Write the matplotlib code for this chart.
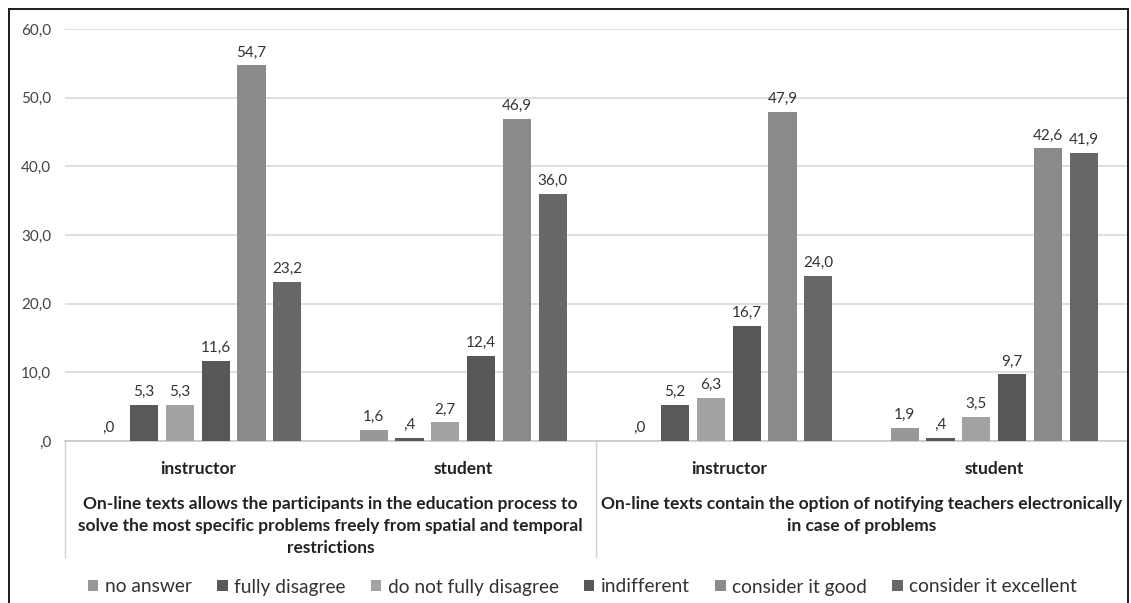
import numpy as np
import matplotlib.pyplot as plt
from matplotlib.lines import Line2D

plt.rcParams['font.family'] = ['Lato', 'DejaVu Sans']

# -- Data
groups = ['instructor', 'student', 'instructor', 'student']
statements = [
    'On-line texts allows the participants in the education process to\n'
    'solve the most specific problems freely from spatial and temporal\n'
    'restrictions',
    'On-line texts contain the option of notifying teachers electronically\n'
    'in case of problems',
]
series = ['no answer', 'fully disagree', 'do not fully disagree',
          'indifferent', 'consider it good', 'consider it excellent']
no_answer = [0.0, 1.6, 0.0, 1.9]
fully_disagree = [5.3, 0.4, 5.2, 0.4]
not_fully_disagree = [5.3, 2.7, 6.3, 3.5]
indifferent = [11.6, 12.4, 16.7, 9.7]
good = [54.7, 46.9, 47.9, 42.6]
excellent = [23.2, 36.0, 24.0, 41.9]

values = [no_answer, fully_disagree, not_fully_disagree, indifferent, good, excellent]
colors = ['#989898', '#595959', '#a3a3a3', '#575757', '#8a8a8a', '#676767']


def fmt(v):
    s = f'{v:.1f}'.replace('.', ',')
    if s.startswith('0,'):
        s = s[1:]
    return s


fig = plt.figure(figsize=(11.31, 6.03), dpi=100)
ax = fig.add_axes([65 / 1131, 1 - 441 / 603, 1062 / 1131, 412 / 603])

x = np.arange(len(groups))
step = 0.135
width = 0.106
for i, (name, vals, c) in enumerate(zip(series, values, colors)):
    pos = x + (i - 2.5) * step
    bars = ax.bar(pos, vals, width, color=c, label=name, zorder=3)
    for b, v in zip(bars, vals):
        ax.annotate(fmt(v), (b.get_x() + b.get_width() / 2, v),
                    xytext=(0, 6), textcoords='offset pixels',
                    ha='center', va='bottom', fontsize=11, color='#333333')

ax.set_xlim(-0.5, 3.5)
ax.set_ylim(0, 60)
ax.set_yticks(np.arange(0, 61, 10))
ax.set_yticklabels([fmt(t) for t in np.arange(0, 61, 10)], fontsize=11, color='#444444')
ax.tick_params(axis='y', length=0, pad=10)
ax.set_xticks([])
ax.grid(axis='y', color='#d9d9d9', linewidth=1.2, zorder=0)
for side in ['top', 'right', 'left']:
    ax.spines[side].set_visible(False)
ax.spines['bottom'].set_color('#c8c8c8')
ax.spines['bottom'].set_linewidth(1.2)

# two-level category axis
tr = ax.get_xaxis_transform()
for xs in [-0.5, 1.5, 3.5]:
    ax.plot([xs, xs], [0, -116 / 412], transform=tr, color='#d0d0d0',
            linewidth=1.0, clip_on=False)
for xi, g in zip(x, groups):
    ax.annotate(g, (xi, 0), xycoords=tr, xytext=(0, -28), textcoords='offset pixels',
                ha='center', va='center', fontsize=12.5, fontweight='bold', color='#222222')
for k, s in enumerate(statements):
    ax.annotate(s, (2 * k + 0.5, 0), xycoords=tr, xytext=(0, -55), textcoords='offset pixels',
                ha='center', va='top', fontsize=12.5, fontweight='bold', color='#222222',
                linespacing=1.45)

# legend
fig.legend(loc='center', bbox_to_anchor=(0.515, 1 - 587 / 603), ncol=6, frameon=False,
           handlelength=0.55, handleheight=0.55, handletextpad=0.35, columnspacing=1.3,
           fontsize=13.8, labelcolor='#333333')

# outer frame
fx0, fx1, fy1 = 9 / 1131, 1128 / 1131, 1 - 9 / 603
for xs, ys in [([fx0, fx0], [-0.1, fy1]), ([fx0, fx1], [fy1, fy1]), ([fx1, fx1], [fy1, -0.1])]:
    fig.add_artist(Line2D(xs, ys, transform=fig.transFigure, color='#1a1a1a', linewidth=1.4))

fig.savefig('out.png', dpi=100)
